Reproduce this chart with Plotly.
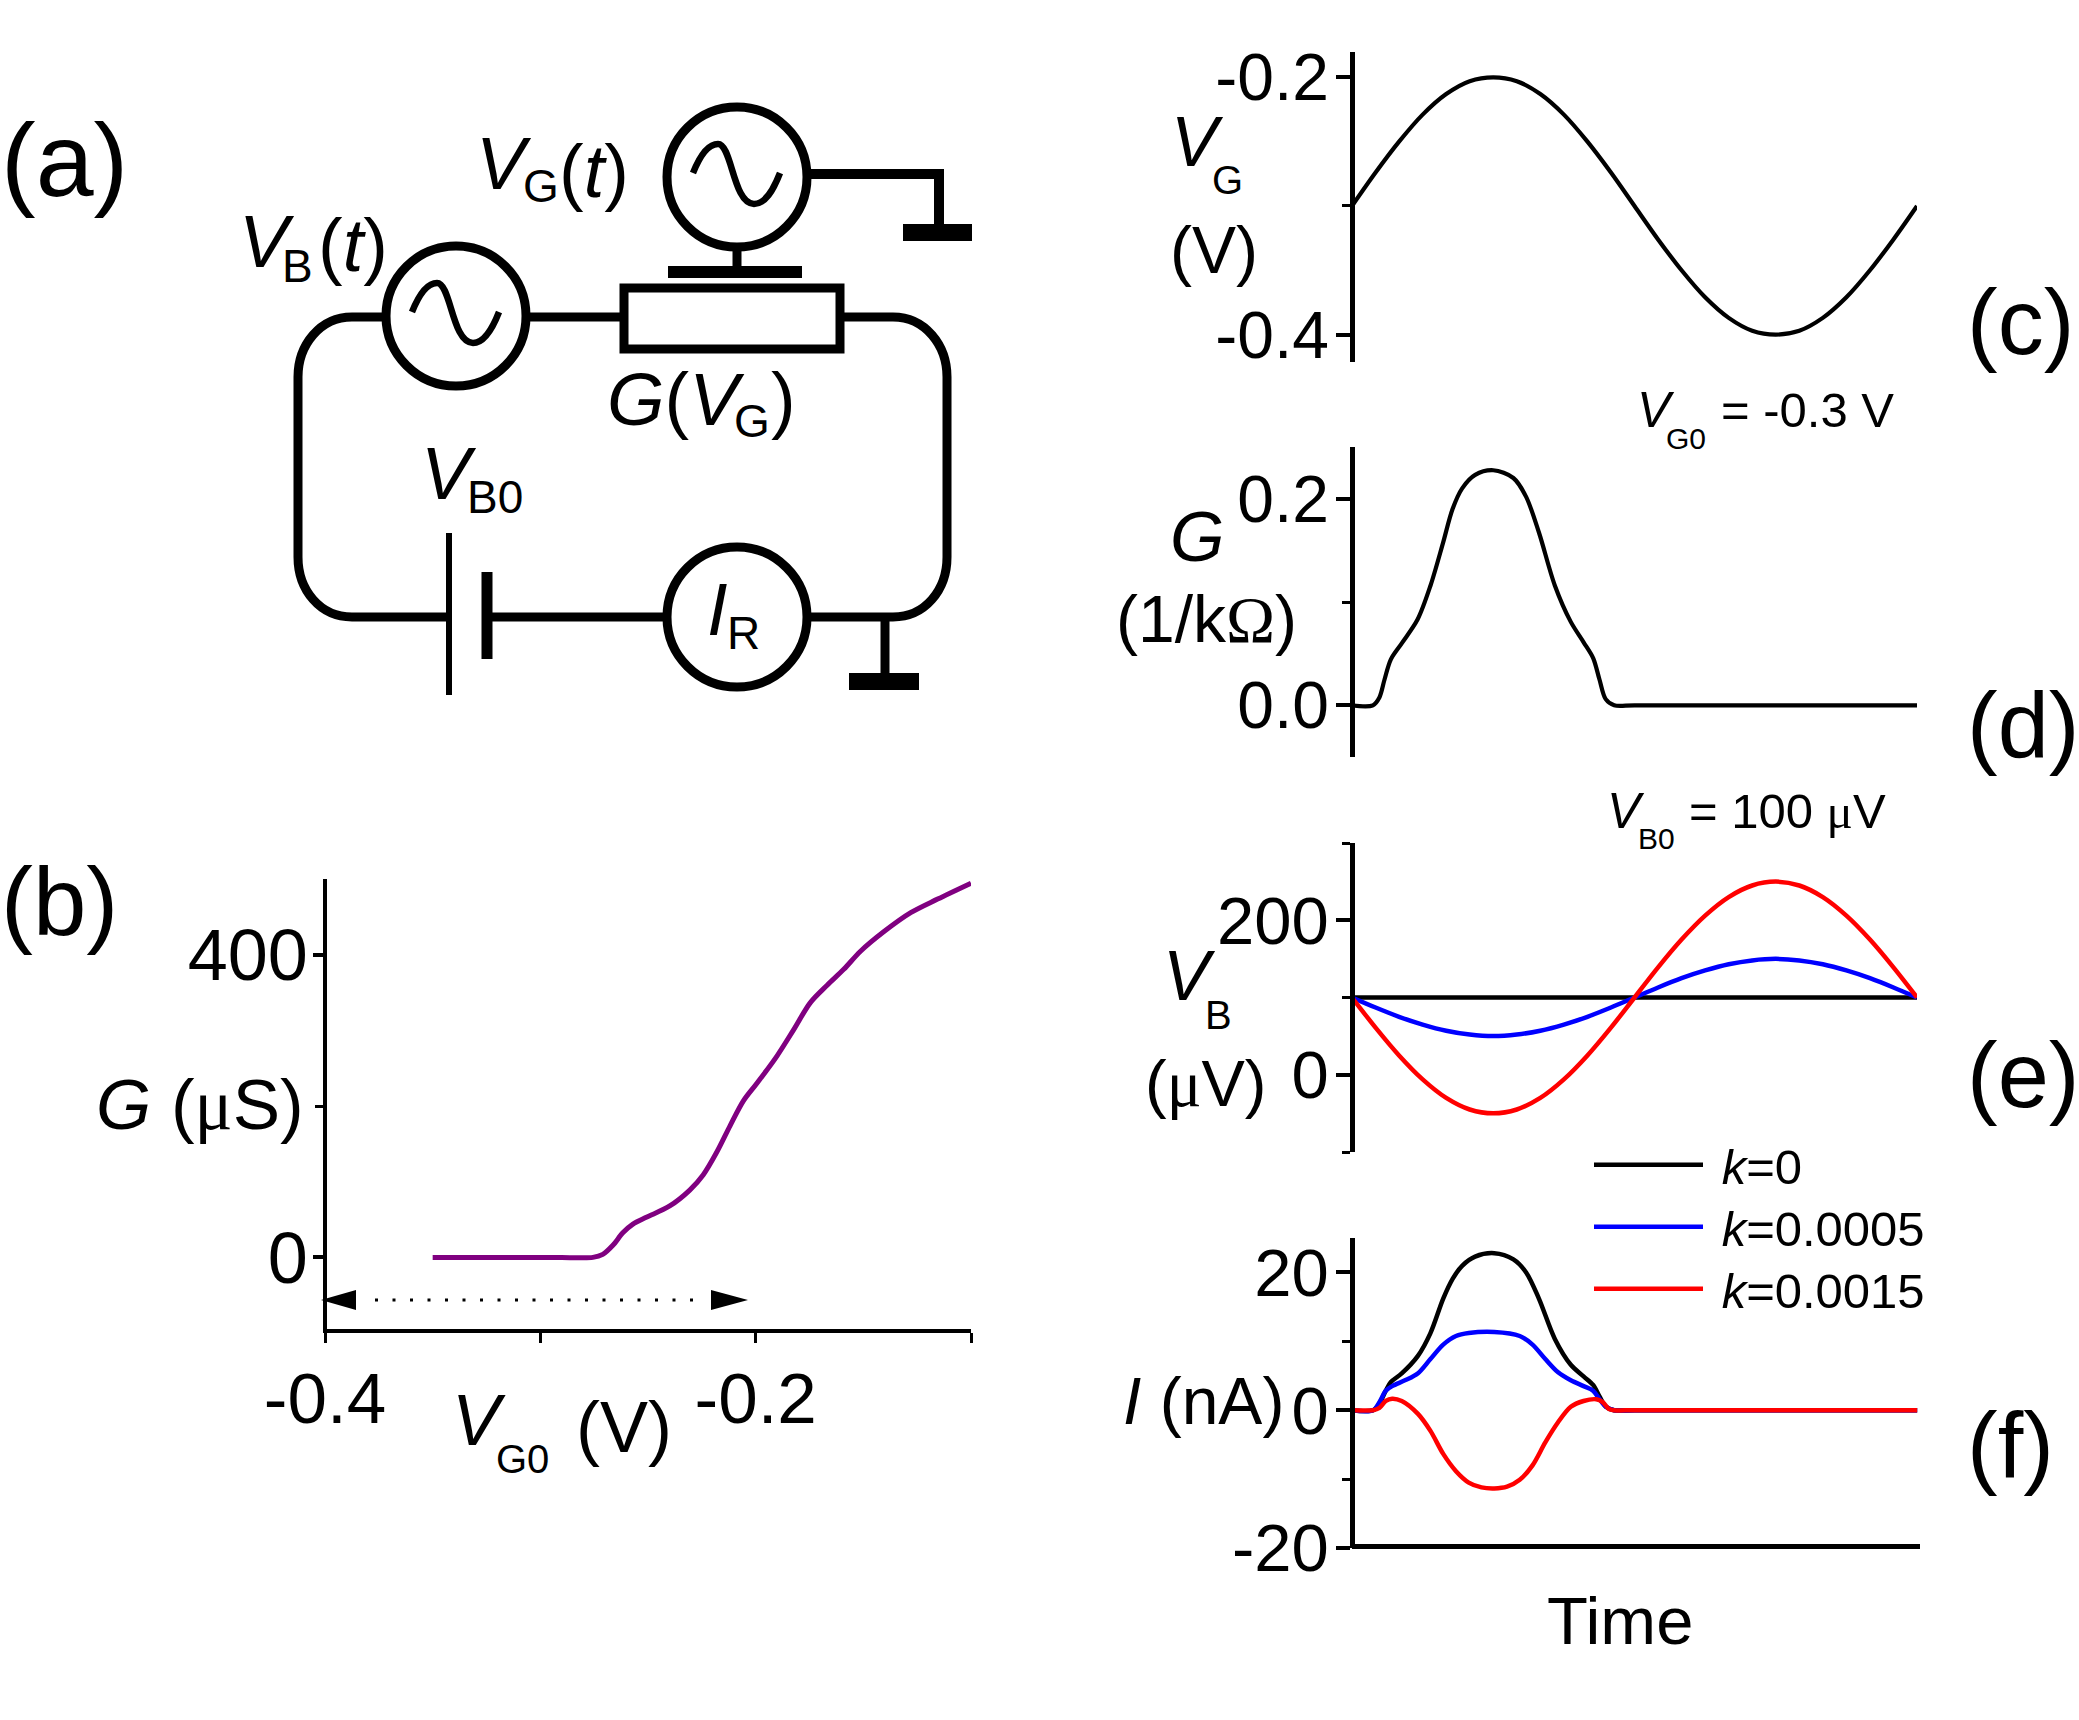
import plotly.graph_objects as go

W, H = 2079, 1720
FONT = "Liberation Sans"
SERIF = "Liberation Serif"

# ---------- data ----------
b_vg0 = [-0.35, -0.32, -0.29, -0.2756, -0.271, -0.2663, -0.2617, -0.257, -0.2508, -0.2399, -0.2306, -0.2244,
         -0.2181, -0.2119, -0.2057, -0.1995, -0.1902, -0.1824, -0.1746, -0.1668, -0.1591, -0.1513, -0.1404,
         -0.128, -0.1155, -0.1]
b_g = [0, 0, 0, 0, 4, 16, 32.5, 44, 53, 68, 89, 109, 139, 174, 207, 230, 266, 301, 337, 360, 381, 405, 431, 456, 474, 495]

t_sine = [0, 0.0417, 0.0833, 0.125, 0.1667, 0.2083, 0.25, 0.2917, 0.3333, 0.375, 0.4167, 0.4583, 0.5,
          0.5417, 0.5833, 0.625, 0.6667, 0.7083, 0.75, 0.7917, 0.8333, 0.875, 0.9167, 0.9583, 1]
c_vg = [-0.3, -0.274, -0.25, -0.229, -0.213, -0.203, -0.2, -0.203, -0.213, -0.229, -0.25, -0.274, -0.3,
        -0.326, -0.35, -0.371, -0.387, -0.397, -0.4, -0.397, -0.387, -0.371, -0.35, -0.326, -0.3]

d_t = [0, 0.037, 0.0485, 0.0576, 0.0688, 0.088, 0.116, 0.139, 0.161, 0.178, 0.195, 0.218, 0.25, 0.2856,
       0.308, 0.331, 0.359, 0.387, 0.41, 0.427, 0.438, 0.449, 0.464, 0.5, 0.75, 1]
d_g = [0, 0, 0.0076, 0.025, 0.0445, 0.06, 0.083, 0.116, 0.157, 0.19, 0.21, 0.223, 0.2275, 0.22, 0.202,
       0.167, 0.116, 0.081, 0.061, 0.0455, 0.025, 0.006, 0, 0, 0, 0]

e_k0 = [100] * 25
e_k1 = [100, 87, 75, 65, 57, 52, 50, 52, 57, 65, 75, 87, 100, 113, 125, 135, 143, 148, 150, 148, 143, 135, 125, 113, 100]
e_k2 = [100, 61, 25, -6, -30, -45, -50, -45, -30, -6, 25, 61, 100, 139, 175, 206, 230, 245, 250, 245, 230, 206, 175, 139, 100]

f_t0 = [0, 0.0372, 0.0485, 0.0598, 0.0688, 0.088, 0.1163, 0.1388, 0.1614, 0.1783, 0.1953, 0.2178, 0.2517, 0.2856,
        0.3081, 0.3307, 0.3589, 0.3871, 0.4097, 0.4266, 0.4379, 0.4492, 0.4639, 0.5, 0.75, 1]
f_i0 = [0, 0, 1.0, 2.84, 4.09, 5.34, 7.85, 11.2, 16.2, 19.1, 21.0, 22.3, 22.8, 21.9, 20.0, 16.2, 10.35, 6.6, 4.92,
        3.67, 2.0, 0.5, 0, 0, 0, 0]
f_t1 = [0, 0.0372, 0.0485, 0.0598, 0.0711, 0.0937, 0.1163, 0.1388, 0.1614, 0.184, 0.2065, 0.2517, 0.2968, 0.3194,
        0.342, 0.3646, 0.3871, 0.4097, 0.4266, 0.4379, 0.4492, 0.4639, 0.5, 0.75, 1]
f_i1 = [0, 0, 1.17, 2.84, 3.5, 4.34, 5.34, 7.43, 9.52, 10.77, 11.2, 11.35, 10.77, 9.52, 7.43, 5.5, 4.34, 3.5, 2.84,
        1.59, 0.5, 0, 0, 0, 0]
f_t2 = [0, 0.0372, 0.0485, 0.0598, 0.0711, 0.088, 0.1163, 0.1388, 0.1614, 0.184, 0.2065, 0.2291, 0.2517, 0.2743,
        0.2968, 0.3194, 0.342, 0.3646, 0.3871, 0.4097, 0.4323, 0.4436, 0.4549, 0.4639, 0.5, 0.75, 1]
f_i2 = [0, 0, 0.33, 1.34, 1.67, 1.34, -0.5, -3.0, -6.34, -8.85, -10.5, -11.2, -11.35, -11.1, -10.1, -8.0, -4.67,
        -1.75, 0.5, 1.34, 1.59, 1.17, 0.17, 0, 0, 0, 0]

legend_names = ["\u00a0<i>k</i>=0", "\u00a0<i>k</i>=0.0005", "\u00a0<i>k</i>=0.0015"]
curve_colors = ["#000000", "#0000ff", "#ff0000"]
PURPLE = "#800080"

# ---------- helpers ----------
def px(x): return x / W
def py(y): return 1 - y / H

annotations = []
def txt(x, y, s, size, anchor="left"):
    annotations.append(dict(x=px(x), y=py(y), xref="paper", yref="paper", text=s, showarrow=False,
                            xanchor=anchor, yanchor="middle", align="left", borderpad=0,
                            font=dict(family=FONT, size=size, color="black")))

shapes = []
def path(d, w=9, fill=None):
    out = []
    for cmd, *pts in d:
        out.append(cmd + " ".join(f"{px(a):.5f},{py(b):.5f}" for a, b in pts))
    shapes.append(dict(type="path", xref="paper", yref="paper", path=" ".join(out),
                       line=dict(color="black", width=w), fillcolor=fill if fill else "rgba(0,0,0,0)"))
def rect(x0, y0, x1, y1, w=0, fill="black"):
    shapes.append(dict(type="rect", xref="paper", yref="paper", x0=px(x0), x1=px(x1), y0=py(y0), y1=py(y1),
                       line=dict(color="black", width=w), fillcolor=fill))
def circle(cx, cy, r, w=9):
    shapes.append(dict(type="circle", xref="paper", yref="paper", x0=px(cx - r), x1=px(cx + r),
                       y0=py(cy - r), y1=py(cy + r), line=dict(color="black", width=w),
                       fillcolor="rgba(0,0,0,0)"))
def line(x0, y0, x1, y1, w=9, dash="solid"):
    shapes.append(dict(type="line", xref="paper", yref="paper", x0=px(x0), x1=px(x1), y0=py(y0), y1=py(y1),
                       line=dict(color="black", width=w, dash=dash)))

def sine(cx, cy):
    path([("M", (cx - 44, cy - 4)), ("C", (cx - 36, cy - 24), (cx - 28, cy - 33), (cx - 19, cy - 33)),
          ("C", (cx - 5, cy - 33), (cx - 4, cy + 27), (cx + 17, cy + 27)),
          ("C", (cx + 28, cy + 27), (cx + 36, cy + 14), (cx + 43, cy - 4))], w=6.5)

axes = {}
def add_axes(n, x0, x1, y0, y1, xr, yr, yticks, ylabels, yminor, ytl, ysize, ylw=4.5,
             xvisible=False, xticks=None, xlabels=None, xminor=None, xsize=None, xstand=0, ystand=2):
    sx = "" if n == 1 else str(n)
    axes["xaxis" + sx] = dict(domain=[px(x0), px(x1)], range=xr, anchor="free", position=py(y1 - ylw / 2),
                              visible=xvisible, showgrid=False, zeroline=False, showline=xvisible,
                              linecolor="black", linewidth=ylw,
                              ticks="outside" if xvisible else "", ticklen=10, tickwidth=3, tickcolor="black",
                              tickmode="array", tickvals=xticks or [], ticktext=xlabels or [],
                              ticklabelstandoff=xstand,
                              tickfont=dict(family=FONT, size=xsize or 60, color="black"),
                              minor=dict(tickvals=xminor or [], ticks="outside" if xminor else "",
                                         ticklen=10, tickwidth=3, tickcolor="black"))
    axes["yaxis" + sx] = dict(domain=[1 - y1 / H, 1 - y0 / H], range=yr, anchor="free", position=px(x0),
                              showgrid=False, zeroline=False, showline=True, linecolor="black", linewidth=ylw,
                              ticks="outside", ticklen=ytl, tickwidth=4, tickcolor="black",
                              tickmode="array", tickvals=yticks, ticktext=ylabels, ticklabelstandoff=ystand,
                              tickfont=dict(family=FONT, size=ysize, color="black"),
                              minor=dict(tickvals=yminor, ticks="outside", ticklen=8, tickwidth=3, tickcolor="black"))

LX0, LX1 = 1352, 1917
add_axes(1, 325, 971, 879.4, 1333, [-0.4, -0.1], [-100, 500], [0, 400], ["0", "400"], [200], 10, 72, ylw=3.5,
         xvisible=True, xticks=[-0.4, -0.2], xlabels=["-0.4", "-0.2"], xminor=[-0.3, -0.1], xsize=71, xstand=-5, ystand=-9)
add_axes(2, LX0, LX1, 52, 362, [0, 1], [-0.4213, -0.1803], [-0.4, -0.2], ["-0.4", "-0.2"], [-0.3], 14, 66, ystand=-6)
add_axes(3, LX0, LX1, 447, 757, [0, 1], [-0.05, 0.25], [0, 0.2], ["0.0", "0.2"], [0.1], 14, 66, ystand=-6)
add_axes(4, LX0, LX1, 843, 1152, [0, 1], [-100, 300], [0, 200], ["0", "200"], [-100, 100, 300], 14, 67, ystand=-6)
add_axes(5, LX0, 1920, 1238, 1548, [0, 1.005], [-20, 25], [-20, 0, 20], ["-20", "0", "20"], [-10, 10], 14, 67,
         xvisible=True, ystand=-6)

# ---------- traces ----------
fig = go.Figure()
LINE = dict(shape="spline", smoothing=0.9)
def add(xs, ys, n, color, width, name=None, legend=None):
    sx = "" if n == 1 else str(n)
    fig.add_trace(go.Scatter(x=xs, y=ys, mode="lines", xaxis="x" + sx, yaxis="y" + sx, name=name or "",
                             showlegend=name is not None, cliponaxis=False, legend=legend or "legend",
                             line=dict(color=color, width=width, **LINE)))

add(b_vg0, b_g, 1, PURPLE, 5)
add(t_sine, c_vg, 2, "black", 4.2)
add(d_t, d_g, 3, "black", 4.2)
add(t_sine, e_k0, 4, curve_colors[0], 4.5)
add(t_sine, e_k1, 4, curve_colors[1], 4.5)
add(t_sine, e_k2, 4, curve_colors[2], 4.5)
add(f_t0, f_i0, 5, curve_colors[0], 4.5, legend_names[0], "legend")
add(f_t1, f_i1, 5, curve_colors[1], 4.5, legend_names[1], "legend2")
add(f_t2, f_i2, 5, curve_colors[2], 4.5, legend_names[2], "legend3")

# ---------- circuit ----------
path([("M", (386, 317)), ("L", (352, 317)), ("C", (320, 317), (298, 345), (298, 377)), ("L", (298, 557)),
      ("C", (298, 590), (320, 617), (352, 617)), ("L", (449, 617))])
path([("M", (840, 317)), ("L", (893, 317)), ("C", (925, 317), (947, 345), (947, 377)), ("L", (947, 557)),
      ("C", (947, 590), (925, 617), (893, 617)), ("L", (807, 617))])
line(526, 317, 623, 317)
line(487, 617, 667, 617)
rect(624, 288, 840, 349, w=9, fill="rgba(0,0,0,0)")
circle(456, 316, 70)
circle(737, 177, 70)
circle(737, 617, 70)
sine(456, 316)
sine(737, 177)
rect(668, 266, 802, 278)
line(737, 247, 737, 270)
path([("M", (807, 174)), ("L", (939, 174)), ("L", (939, 228))], w=10)
rect(903, 224, 972, 241)
line(885, 617, 885, 676)
rect(849, 673, 919, 690)
line(449, 533, 449, 695, w=6)
line(487, 572, 487, 659, w=11)

# arrow in panel (b)
line(375, 1300, 704, 1300, w=3, dash="3px,14.5px")
path([("M", (321, 1300)), ("L", (356, 1290)), ("L", (356, 1310)), ("Z",)], w=0, fill="black")
path([("M", (748, 1300)), ("L", (711, 1290)), ("L", (711, 1310)), ("Z",)], w=0, fill="black")

# ---------- text ----------
txt(0, 160, "(a)", 104)
txt(0, 902, "(b)", 96)
txt(1966, 322, "(c)", 92)
txt(1966, 725, "(d)", 92)
txt(1966, 1075, "(e)", 92)
txt(1966, 1445, "(f)", 92)

txt(475, 163, "<i>V</i>", 74)
txt(522, 186, "G", 46)
txt(558, 171, "(<i>t</i>)", 74)
txt(238, 242, "<i>V</i>", 74)
txt(281, 266, "B", 46)
txt(317, 245, "(<i>t</i>)", 74)
txt(606, 399, "<i>G</i>(<i>V</i>", 74)
txt(733, 421, "G", 46)
txt(770, 400, ")", 74)
txt(420, 473, "<i>V</i>", 74)
txt(466, 497, "B0", 46)
txt(706, 609, "<i>I</i>", 74)
txt(726, 633, "R", 46)

MU = f'<span style="font-family:{SERIF}">μ</span>'
OM = f'<span style="font-family:{SERIF}">Ω</span>'

txt(95, 1104, f"<i>G</i> ({MU}S)", 71)
txt(451, 1420, "<i>V</i>", 72)
txt(495, 1459, "G0", 40)
txt(575, 1427, "(V)", 72)

txt(1170, 142, "<i>V</i>", 70)
txt(1211, 180, "G", 40)
txt(1169, 250, "(V)", 66)
txt(1636, 410, "<i>V</i>", 50)
txt(1665, 438, "G0", 30)
txt(1720, 410, "= -0.3 V", 49)

txt(1169, 537, "<i>G</i>", 70)
txt(1115, 619, f"(1/k{OM})", 66)

txt(1606, 811, "<i>V</i>", 50)
txt(1637, 838, "B0", 30)
txt(1688, 811, f"= 100 {MU}V", 49)

txt(1162, 976, "<i>V</i>", 70)
txt(1204, 1015, "B", 40)
txt(1144, 1083, f"({MU}V)", 65)

txt(1122, 1401, "<i>I</i> (nA)", 66)
txt(1620, 1620, "Time", 67, anchor="center")

def leg(y):
    return dict(x=px(1589), y=py(y), xanchor="left", yanchor="middle", bgcolor="rgba(0,0,0,0)",
                itemwidth=109, font=dict(family=FONT, size=49, color="black"))

fig.update_layout(
    width=W, height=H, margin=dict(l=0, r=0, t=0, b=0, pad=0, autoexpand=False),
    paper_bgcolor="white", plot_bgcolor="white",
    font=dict(family=FONT, color="black"), annotations=annotations, shapes=shapes,
    legend=leg(1165), legend2=leg(1227), legend3=leg(1289),
    **axes)

fig.write_html("out.html", config={"displayModeBar": False},
               post_script="document.body.style.margin='0';document.body.style.overflow='hidden';")
